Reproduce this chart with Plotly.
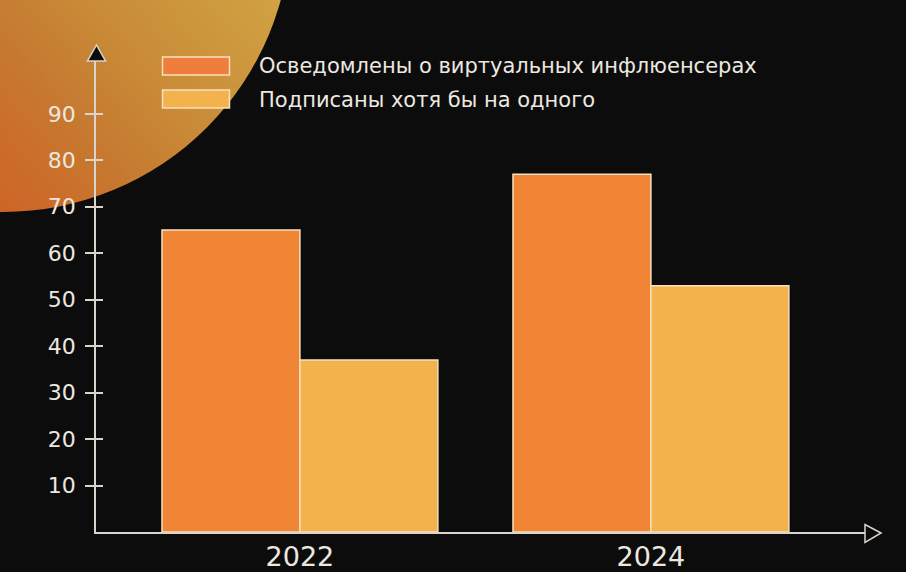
import base64
import plotly.graph_objects as go

# ---- data ----
years = ["2022", "2024"]
aware = [65, 77]          # Осведомлены о виртуальных инфлюенсерах
subscribed = [37, 53]     # Подписаны хотя бы на одного
series_names = ["Осведомлены о виртуальных инфлюенсерах", "Подписаны хотя бы на одного"]
y_ticks = [10, 20, 30, 40, 50, 60, 70, 80, 90]

# ---- style ----
BG = "#0d0c0c"
TXT = "#ece8e0"
AXC = "#d9d5cd"
ORANGE = "#ef8535"
YELLOW = "#f3b24b"
EDGE = "#f7e0be"
FONT = "DejaVu Sans"

W, H = 906, 572
ML, MR, MT, MB = 96, 41, 61, 40
PW, PH = W - ML - MR, H - MT - MB


def px(xp):
    return (xp - ML) / PW


def py(yp):
    return (H - MB - yp) / PH


xs = list(range(len(years)))

fig = go.Figure()
fig.add_trace(go.Bar(x=xs, y=aware, name=series_names[0],
                     marker=dict(color=ORANGE, line=dict(color=EDGE, width=1.5))))
fig.add_trace(go.Bar(x=xs, y=subscribed, name=series_names[1],
                     marker=dict(color=YELLOW, line=dict(color=EDGE, width=1.5))))
# invisible trace to attach the mirrored y axis (inside ticks)
fig.add_trace(go.Scatter(x=[None], y=[None], yaxis="y2", showlegend=False, hoverinfo="skip"))

# background disc with gradient (decoration)
svg = f'''<svg xmlns="http://www.w3.org/2000/svg" width="{W}" height="{H}" viewBox="0 0 {W} {H}">
<defs>
<linearGradient id="g" gradientUnits="userSpaceOnUse" x1="290" y1="-20" x2="0" y2="230">
<stop offset="0" stop-color="#d2a545"/>
<stop offset="0.45" stop-color="#c98a37"/>
<stop offset="0.65" stop-color="#c67a30"/>
<stop offset="1" stop-color="#d06226"/>
</linearGradient>
<filter id="b"><feGaussianBlur stdDeviation="0.7"/></filter>
</defs>
<circle cx="3" cy="-76" r="288" fill="url(#g)" filter="url(#b)"/>
</svg>'''
src = "data:image/svg+xml;base64," + base64.b64encode(svg.encode()).decode()

yr = [0, PH / 4.646]

shapes = []
# axis arrows
shapes.append(dict(type="path", xref="paper", yref="paper",
                   path=f"M {px(96.5)} {py(45)} L {px(87.5)} {py(61)} L {px(105.5)} {py(61)} Z",
                   line=dict(color=AXC, width=1.5), fillcolor=BG, layer="above"))
shapes.append(dict(type="path", xref="paper", yref="paper",
                   path=f"M {px(881)} {py(533)} L {px(865)} {py(524.5)} L {px(865)} {py(542.5)} Z",
                   line=dict(color=AXC, width=1.5), fillcolor=BG, layer="above"))
# legend swatches
shapes.append(dict(type="rect", xref="paper", yref="paper",
                   x0=px(162.5), x1=px(229.5), y0=py(57), y1=py(75),
                   fillcolor="#ef7e3d", line=dict(color=EDGE, width=1.5)))
shapes.append(dict(type="rect", xref="paper", yref="paper",
                   x0=px(162.5), x1=px(229.5), y0=py(90), y1=py(108),
                   fillcolor=YELLOW, line=dict(color=EDGE, width=1.5)))

annotations = [
    dict(xref="paper", yref="paper", x=px(257), y=py(66), xanchor="left", yanchor="middle",
         text=series_names[0], showarrow=False, font=dict(family=FONT, size=21, color=TXT)),
    dict(xref="paper", yref="paper", x=px(257), y=py(99.5), xanchor="left", yanchor="middle",
         text=series_names[1], showarrow=False, font=dict(family=FONT, size=21, color=TXT)),
]

fig.update_layout(
    width=W, height=H,
    margin=dict(l=ML, r=MR, t=MT, b=MB, pad=0, autoexpand=False),
    paper_bgcolor=BG, plot_bgcolor="rgba(0,0,0,0)",
    barmode="group", bargap=0.214, bargroupgap=0,
    showlegend=False,
    font=dict(family=FONT, color=TXT),
    images=[dict(source=src, xref="paper", yref="paper", x=-ML / PW, y=1 + MT / PH,
                 sizex=W / PW, sizey=H / PH, xanchor="left", yanchor="top",
                 sizing="stretch", layer="below")],
    shapes=shapes,
    annotations=annotations,
    xaxis=dict(range=[-0.581, 1.61], tickvals=xs, ticktext=years, showgrid=False,
               zeroline=False, showline=True, linecolor=AXC, linewidth=1.5,
               automargin=False,
               ticks="", tickfont=dict(family=FONT, size=27, color=TXT)),
    yaxis=dict(range=yr, tickvals=y_ticks, showgrid=False, zeroline=False,
               showline=True, linecolor=AXC, linewidth=1.5, automargin=False,
               ticks="outside", ticklen=9, tickwidth=1.5, tickcolor=AXC,
               ticklabelstandoff=5,
               tickfont=dict(family=FONT, size=22, color=TXT)),
    yaxis2=dict(range=yr, overlaying="y", side="left", tickvals=y_ticks,
                showticklabels=False, showgrid=False, zeroline=False, showline=False,
                automargin=False,
                ticks="inside", ticklen=7, tickwidth=1.5, tickcolor=AXC),
)

fig.write_html(
    "out.html",
    config={"displayModeBar": False},
    post_script="document.body.style.margin='0';document.body.style.background='#0d0c0c';"
                "document.body.style.overflow='hidden';",
)
